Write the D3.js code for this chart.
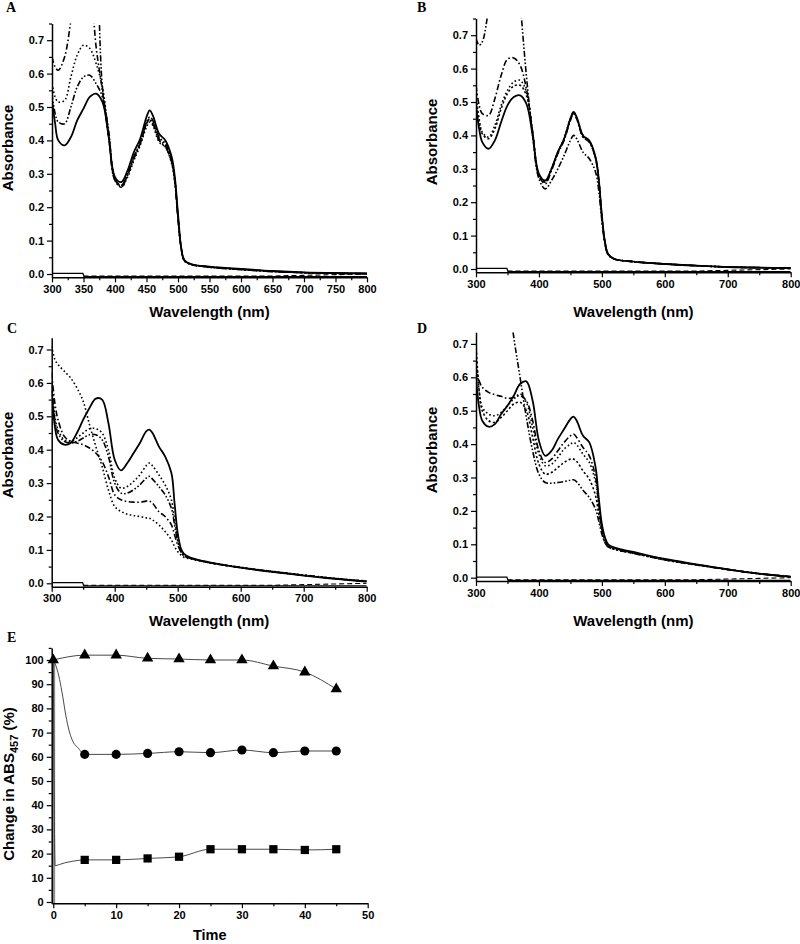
<!DOCTYPE html>
<html><head><meta charset="utf-8">
<script src="https://cdn.jsdelivr.net/npm/d3@7/dist/d3.min.js"></script>
<style>body{margin:0;background:#fff}svg{display:block}</style>
</head><body>
<svg id="c" width="800" height="944"></svg>
<script>
// ---------- DATA ----------
const wl = [300,305,310,320,330,340,350,360,370,380,390,400,410,420,430,440,450,455,460,470,480,490,495,500,505,510,520,550,600,650,700,750,800];

const specA1 = [0.52,0.45,0.40,0.385,0.41,0.46,0.495,0.53,0.54,0.515,0.41,0.29,0.275,0.31,0.365,0.405,0.47,0.49,0.475,0.42,0.40,0.35,0.29,0.18,0.08,0.042,0.03,0.022,0.015,0.009,0.005,0.003,0.002];
const specA2 = [0.65,0.62,0.61,0.65,0.76,0.9,0.98,0.9,0.68,0.55,0.41,0.285,0.265,0.30,0.35,0.39,0.45,0.465,0.455,0.405,0.385,0.335,0.28,0.17,0.078,0.04,0.029,0.021,0.014,0.008,0.004,0.002,0.001];
const specA3 = [0.57,0.53,0.515,0.52,0.59,0.655,0.685,0.675,0.63,0.56,0.42,0.285,0.26,0.29,0.34,0.385,0.44,0.455,0.445,0.395,0.38,0.33,0.275,0.17,0.08,0.041,0.029,0.021,0.014,0.008,0.004,0.002,0.001];
const specA4 = [0.54,0.48,0.455,0.45,0.50,0.56,0.59,0.595,0.57,0.53,0.41,0.28,0.265,0.30,0.35,0.395,0.455,0.47,0.46,0.41,0.39,0.34,0.28,0.17,0.08,0.041,0.03,0.021,0.014,0.008,0.004,0.002,0.001];
const specA5 = [1.3,1.3,1.3,1.3,1.3,1.3,1.25,1.15,1.0,0.56,0.43,0.28,0.26,0.295,0.345,0.39,0.45,0.46,0.45,0.40,0.38,0.335,0.275,0.165,0.078,0.04,0.029,0.02,0.013,0.007,0.004,0.002,0.001];

const specB1 = [0.49,0.42,0.38,0.36,0.385,0.44,0.49,0.515,0.52,0.495,0.40,0.285,0.265,0.30,0.35,0.39,0.45,0.47,0.455,0.40,0.385,0.335,0.27,0.16,0.08,0.045,0.03,0.022,0.015,0.01,0.006,0.004,0.003];
const specB2 = [0.69,0.67,0.68,0.78,0.92,1.0,1.05,1.0,0.8,0.58,0.40,0.27,0.24,0.265,0.30,0.34,0.385,0.40,0.39,0.35,0.33,0.29,0.235,0.145,0.075,0.042,0.03,0.022,0.015,0.01,0.006,0.004,0.003];
const specB3 = [0.55,0.49,0.465,0.46,0.51,0.58,0.628,0.632,0.61,0.54,0.41,0.28,0.255,0.295,0.345,0.385,0.445,0.465,0.45,0.395,0.38,0.33,0.265,0.155,0.078,0.044,0.03,0.022,0.015,0.01,0.006,0.004,0.003];
const specB4 = [0.52,0.45,0.41,0.395,0.43,0.49,0.535,0.56,0.565,0.53,0.41,0.28,0.26,0.30,0.35,0.39,0.45,0.465,0.45,0.395,0.38,0.33,0.265,0.155,0.078,0.044,0.03,0.022,0.015,0.01,0.006,0.004,0.003];
const specB5 = [0.5,0.44,0.405,0.39,0.42,0.48,0.525,0.548,0.55,0.52,0.41,0.28,0.26,0.30,0.35,0.39,0.45,0.468,0.452,0.40,0.382,0.332,0.268,0.158,0.079,0.044,0.03,0.022,0.015,0.01,0.006,0.004,0.003];

const specC1 = [0.58,0.47,0.43,0.415,0.42,0.45,0.49,0.525,0.553,0.55,0.48,0.37,0.338,0.36,0.39,0.42,0.455,0.46,0.45,0.41,0.38,0.33,0.24,0.15,0.105,0.088,0.077,0.063,0.047,0.034,0.023,0.013,0.005];
const specC2 = [0.71,0.67,0.655,0.635,0.615,0.585,0.545,0.475,0.41,0.35,0.28,0.23,0.215,0.207,0.203,0.2,0.196,0.195,0.19,0.175,0.155,0.13,0.11,0.095,0.085,0.078,0.073,0.062,0.048,0.036,0.025,0.015,0.007];
const specC3 = [0.6,0.5,0.46,0.43,0.425,0.435,0.45,0.463,0.463,0.45,0.40,0.315,0.285,0.29,0.305,0.325,0.352,0.36,0.352,0.325,0.295,0.25,0.19,0.135,0.1,0.085,0.076,0.062,0.047,0.035,0.024,0.014,0.006];
const specC4 = [0.6,0.49,0.45,0.425,0.42,0.425,0.435,0.445,0.445,0.43,0.38,0.30,0.27,0.27,0.28,0.295,0.315,0.32,0.312,0.29,0.265,0.225,0.175,0.125,0.095,0.082,0.075,0.062,0.047,0.035,0.024,0.014,0.006];
const specC5 = [0.63,0.54,0.49,0.44,0.425,0.42,0.415,0.405,0.39,0.365,0.32,0.265,0.25,0.245,0.243,0.243,0.246,0.246,0.24,0.215,0.2,0.175,0.145,0.115,0.095,0.083,0.075,0.062,0.047,0.035,0.024,0.014,0.006];

const specD1 = [0.6,0.51,0.47,0.452,0.46,0.49,0.515,0.545,0.58,0.588,0.53,0.41,0.365,0.38,0.415,0.445,0.475,0.482,0.47,0.425,0.405,0.33,0.24,0.16,0.12,0.1,0.09,0.077,0.056,0.04,0.025,0.012,0.003];
const specD2 = [1.5,1.4,1.3,1.15,1.05,0.98,0.86,0.72,0.6,0.48,0.38,0.31,0.285,0.283,0.285,0.288,0.292,0.293,0.287,0.262,0.24,0.205,0.17,0.13,0.105,0.092,0.085,0.073,0.053,0.038,0.024,0.012,0.003];
const specD3 = [0.63,0.59,0.57,0.555,0.548,0.543,0.537,0.54,0.545,0.53,0.47,0.38,0.345,0.355,0.38,0.405,0.425,0.43,0.42,0.39,0.365,0.3,0.22,0.15,0.115,0.098,0.088,0.075,0.055,0.039,0.025,0.012,0.003];
const specD4 = [0.67,0.56,0.51,0.49,0.485,0.495,0.515,0.535,0.55,0.525,0.45,0.37,0.335,0.34,0.36,0.385,0.4,0.405,0.398,0.37,0.345,0.285,0.21,0.145,0.11,0.095,0.086,0.074,0.054,0.039,0.025,0.012,0.003];
const specD5 = [0.7,0.56,0.5,0.47,0.465,0.48,0.5,0.52,0.525,0.5,0.42,0.34,0.31,0.315,0.33,0.345,0.355,0.355,0.348,0.32,0.295,0.245,0.19,0.14,0.105,0.093,0.085,0.073,0.054,0.039,0.025,0.012,0.003];

// blank (reference) traces
const blankWl = [300,349,351,800];
const blankSolid = [0.002,0.002,-0.008,-0.008];
const blankDashWl = [350,500,650,700,750,800];
const blankDash = [-0.006,-0.006,-0.006,-0.004,-0.002,0.0];

// tick labels
const absTicks = [0,0.1,0.2,0.3,0.4,0.5,0.6,0.7];
const absMinor = [0.05,0.15,0.25,0.35,0.45,0.55,0.65,0.75];
const wlTicksA = [300,350,400,450,500,550,600,650,700,750,800];
const wlMinorA = [325,375,425,475,525,575,625,675,725,775];
const wlTicks = [300,400,500,600,700,800];
const wlMinor = [350,450,550,650,750];

// panel E
const eTime = [0,5,10,15,20,25,30,35,40,45];
const eTriangle = [100,102,102,100.7,100.4,100,100,97.5,95,88];
const eCircleT = [5,10,15,20,25,30,35,40,45];
const eCircle = [61,61,61.4,62.1,61.7,62.8,61.7,62.4,62.4];
const eCircleLineT = [0,0.5,1,1.5,2,2.5,3,4,5,10,15,20,25,30,35,40,45];
const eCircleLine = [100,97,92,85,77,71,67,63.5,61,61,61.4,62.1,61.7,62.8,61.7,62.4,62.4];
const eSquareT = [5,10,15,20,25,30,35,40,45];
const eSquare = [17.4,17.4,18,18.7,21.8,21.8,21.8,21.5,21.8];
const eSquareLineT = [0,0.3,1,2,3,5,10,15,20,25,30,35,40,45];
const eSquareLine = [100,15,15.5,16.3,16.8,17.4,17.4,18,18.7,21.8,21.8,21.8,21.5,21.8];
const eXTicks = [0,10,20,30,40,50];
const eXMinor = [5,15,25,35,45];
const eYTicks = [0,10,20,30,40,50,60,70,80,90,100];
const eYMinor = [5,15,25,35,45,55,65,75,85,95,105];

// ---------- DRAW ----------
const svg = d3.select('#c');
const FONT = '"Liberation Sans", Arial, Helvetica, sans-serif';
const SERIF = '"Liberation Serif", "Times New Roman", serif';
const dashes = {solid:null, dash:'5,3', dot:'1.6,2.4', dash2:'2.2,2.2', dashdot:'6,2.5,1.6,2.5', dashdotdot:'6,2,1.6,2,1.6,2'};

function drawAxes(g, x, y, xt, xm, yt, ym, xfmt, yfmt) {
  const y0 = y.range()[0], x0 = x.range()[0];
  const ax = g.append('g').attr('transform', `translate(0,${y0})`)
    .call(d3.axisBottom(x).tickValues(xt).tickFormat(xfmt).tickSize(5).tickSizeOuter(0).tickPadding(3));
  const axm = g.append('g').attr('transform', `translate(0,${y0})`)
    .call(d3.axisBottom(x).tickValues(xm).tickFormat('').tickSize(3).tickSizeOuter(0));
  axm.select('.domain').remove();
  const ay = g.append('g').attr('transform', `translate(${x0},0)`)
    .call(d3.axisLeft(y).tickValues(yt).tickFormat(yfmt).tickSize(5).tickSizeOuter(0).tickPadding(3));
  const aym = g.append('g').attr('transform', `translate(${x0},0)`)
    .call(d3.axisLeft(y).tickValues(ym).tickFormat('').tickSize(3).tickSizeOuter(0));
  aym.select('.domain').remove();
  [ax, ay, axm, aym].forEach(a => {
    a.selectAll('.domain').attr('stroke', '#000').attr('stroke-width', 1.5);
    a.selectAll('.tick line').attr('stroke', '#000').attr('stroke-width', 1.2);
    a.selectAll('.tick text').attr('font-family', FONT).attr('font-size', 11)
      .attr('font-weight', 'bold').attr('fill', '#000');
  });
}

function spectrumPanel(cfg) {
  const unit = 334;
  const x = d3.scaleLinear().domain([300, 800]).range([cfg.left, cfg.right]);
  const y = d3.scaleLinear().domain([-0.01, cfg.yMax])
    .range([cfg.zero + 0.01 * unit, cfg.zero - cfg.yMax * unit]);
  const g = svg.append('g');
  const clipId = 'clip' + cfg.id;
  g.append('clipPath').attr('id', clipId).append('rect')
    .attr('x', cfg.left).attr('y', y(cfg.yMax))
    .attr('width', cfg.right - cfg.left).attr('height', y(-0.01) - y(cfg.yMax));
  const plot = g.append('g').attr('clip-path', `url(#${clipId})`);

  const lineSm = d3.line().x(d => x(d[0])).y(d => y(d[1])).curve(d3.curveCatmullRom.alpha(0.5));
  const lineLin = d3.line().x(d => x(d[0])).y(d => y(d[1]));

  plot.append('path').datum(blankWl.map((w, i) => [w, blankSolid[i]]))
    .attr('d', lineLin).attr('fill', 'none').attr('stroke', '#000').attr('stroke-width', 1.3);
  plot.append('path').datum(blankDashWl.map((w, i) => [w, blankDash[i]]))
    .attr('d', lineLin).attr('fill', 'none').attr('stroke', '#000').attr('stroke-width', 1.1)
    .attr('stroke-dasharray', '5,3');

  cfg.series.forEach(s => {
    plot.append('path').datum(wl.map((w, i) => [w, s.v[i]]))
      .attr('d', lineSm).attr('fill', 'none').attr('stroke', '#000')
      .attr('stroke-width', s.style === 'solid' ? 1.8 : 1.6)
      .attr('stroke-dasharray', dashes[s.style]);
  });

  const ym = absMinor.filter(v => v <= cfg.yMax + 1e-9);
  drawAxes(g, x, y, cfg.xt, cfg.xm, absTicks, ym, d3.format('d'), d3.format('.1f'));

  g.append('text').attr('x', (cfg.left + cfg.right) / 2).attr('y', cfg.xTitleY)
    .attr('text-anchor', 'middle').attr('font-family', FONT).attr('font-weight', 'bold')
    .attr('font-size', 15).text('Wavelength (nm)');
  g.append('text').attr('transform', `translate(${cfg.yTitleX},${cfg.yTitleY}) rotate(-90)`)
    .attr('text-anchor', 'middle').attr('font-family', FONT).attr('font-weight', 'bold')
    .attr('font-size', 15).text('Absorbance');
  g.append('text').attr('x', cfg.letterX).attr('y', cfg.letterY)
    .attr('font-family', SERIF).attr('font-weight', 'bold').attr('font-size', 14).text(cfg.id);
}

spectrumPanel({id:'A', left:52, right:367, zero:274, yMax:0.75, xt:wlTicksA, xm:wlMinorA,
  xTitleY:317, yTitleX:13, yTitleY:148, letterX:6, letterY:12,
  series:[{v:specA1,style:'solid'},{v:specA2,style:'dashdot'},{v:specA3,style:'dot'},{v:specA4,style:'dashdotdot'},{v:specA5,style:'dashdotdot'}]});
spectrumPanel({id:'B', left:476, right:790.7, zero:269, yMax:0.75, xt:wlTicks, xm:wlMinor,
  xTitleY:317, yTitleX:437, yTitleY:142, letterX:417, letterY:12,
  series:[{v:specB1,style:'solid'},{v:specB2,style:'dashdotdot'},{v:specB3,style:'dashdot'},{v:specB4,style:'dot'},{v:specB5,style:'dash2'}]});
spectrumPanel({id:'C', left:51.7, right:366.7, zero:583.3, yMax:0.735, xt:wlTicks, xm:wlMinor,
  xTitleY:626, yTitleX:13, yTitleY:455, letterX:7, letterY:333,
  series:[{v:specC1,style:'solid'},{v:specC2,style:'dot'},{v:specC3,style:'dot'},{v:specC4,style:'dashdotdot'},{v:specC5,style:'dashdot'}]});
spectrumPanel({id:'D', left:476, right:790.7, zero:577.7, yMax:0.735, xt:wlTicks, xm:wlMinor,
  xTitleY:626, yTitleX:437, yTitleY:450, letterX:417, letterY:333,
  series:[{v:specD1,style:'solid'},{v:specD2,style:'dashdotdot'},{v:specD3,style:'dashdot'},{v:specD4,style:'dot'},{v:specD5,style:'dash2'}]});

// ---------- Panel E ----------
(function () {
  const x = d3.scaleLinear().domain([-0.25, 50]).range([51.7, 367.7]);
  const y = d3.scaleLinear().domain([-0.5, 105]).range([903.2, 647.9]);
  const g = svg.append('g');
  // grey vertical trace at t=0
  g.append('line').attr('x1', x(0.1)).attr('x2', x(0.1)).attr('y1', y(-0.5)).attr('y2', y(100))
    .attr('stroke', '#8c8c8c').attr('stroke-width', 2.5);
  const line = d3.line().x(d => x(d[0])).y(d => y(d[1])).curve(d3.curveMonotoneX);
  const lines = [
    eTime.map((t, i) => [t, eTriangle[i]]),
    eCircleLineT.map((t, i) => [t, eCircleLine[i]]),
    eSquareLineT.map((t, i) => [t, eSquareLine[i]])
  ];
  lines.forEach(d => g.append('path').datum(d).attr('d', line).attr('fill', 'none')
    .attr('stroke', '#333').attr('stroke-width', 0.9));
  const sym = (type, size, ts, vs) => g.append('g').selectAll('path').data(ts.map((t, i) => [t, vs[i]]))
    .join('path').attr('transform', d => `translate(${x(d[0])},${y(d[1])})`)
    .attr('d', d3.symbol().type(type).size(size)).attr('fill', '#000');
  sym(d3.symbolSquare, 68, eSquareT, eSquare);
  sym(d3.symbolCircle, 66, eCircleT, eCircle);
  sym(d3.symbolTriangle, 56, eTime, eTriangle);

  drawAxes(g, x, y, eXTicks, eXMinor, eYTicks, eYMinor, d3.format('d'), d3.format('d'));

  g.append('text').attr('x', 209.7).attr('y', 940).attr('text-anchor', 'middle')
    .attr('font-family', FONT).attr('font-weight', 'bold').attr('font-size', 14.5).text('Time');
  const t = g.append('text').attr('transform', 'translate(14,784) rotate(-90)')
    .attr('text-anchor', 'middle').attr('font-family', FONT).attr('font-weight', 'bold').attr('font-size', 15);
  t.append('tspan').text('Change in ABS');
  t.append('tspan').attr('font-size', 11).attr('dy', 4).text('457');
  t.append('tspan').attr('dy', -4).text(' (%)');
  g.append('text').attr('x', 7).attr('y', 642).attr('font-family', SERIF)
    .attr('font-weight', 'bold').attr('font-size', 14).text('E');
})();
</script>
</body></html>
